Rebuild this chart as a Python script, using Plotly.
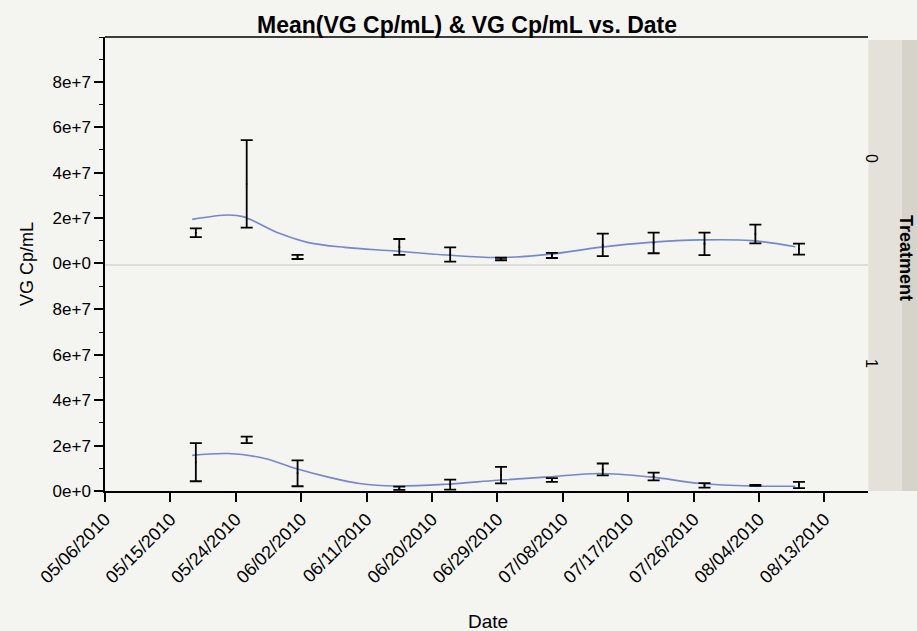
import plotly.graph_objects as go
from datetime import datetime

# ---------------- data ----------------
dates = ["2010-05-18 12:00", "2010-05-25 12:00", "2010-06-01 12:00", "2010-06-15 12:00",
         "2010-06-22 12:00", "2010-06-29 12:00", "2010-07-06 12:00", "2010-07-13 12:00",
         "2010-07-20 12:00", "2010-07-27 12:00", "2010-08-03 12:00", "2010-08-09 12:00"]

# Treatment 0 : mean and half-width of error bar
t0_mean = [1.335e7, 3.50e7, 0.265e7, 0.71e7, 0.375e7, 0.175e7,
           0.335e7, 0.80e7, 0.885e7, 0.845e7, 1.285e7, 0.615e7]
t0_err = [0.195e7, 1.94e7, 0.09e7, 0.35e7, 0.315e7, 0.055e7,
          0.115e7, 0.50e7, 0.455e7, 0.495e7, 0.415e7, 0.245e7]

# Treatment 1
t1_mean = [1.27e7, 2.25e7, 0.78e7, 0.12e7, 0.28e7, 0.70e7,
           0.485e7, 0.95e7, 0.64e7, 0.25e7, 0.25e7, 0.265e7]
t1_err = [0.84e7, 0.14e7, 0.57e7, 0.07e7, 0.22e7, 0.36e7,
          0.085e7, 0.26e7, 0.17e7, 0.10e7, 0.02e7, 0.135e7]

# smoother curves
t0_smooth_dates = ["2010-05-18", "2010-05-23", "2010-05-25", "2010-05-30", "2010-06-03",
                   "2010-06-08", "2010-06-15", "2010-06-22", "2010-06-29", "2010-07-06",
                   "2010-07-13", "2010-07-20", "2010-07-27", "2010-08-03", "2010-08-09"]
t0_smooth = [1.93e7, 2.12e7, 2.05e7, 1.31e7, 0.90e7, 0.69e7, 0.53e7, 0.35e7, 0.24e7,
             0.38e7, 0.69e7, 0.91e7, 1.02e7, 0.99e7, 0.72e7]

t1_smooth_dates = ["2010-05-18", "2010-05-23", "2010-05-28", "2010-06-01", "2010-06-06",
                   "2010-06-10", "2010-06-15", "2010-06-22", "2010-06-29", "2010-07-06",
                   "2010-07-13", "2010-07-20", "2010-07-27", "2010-08-03", "2010-08-09"]
t1_smooth = [1.57e7, 1.65e7, 1.43e7, 1.01e7, 0.59e7, 0.33e7, 0.22e7, 0.30e7, 0.47e7,
             0.62e7, 0.77e7, 0.62e7, 0.33e7, 0.22e7, 0.21e7]

x_tick_labels = ["05/06/2010", "05/15/2010", "05/24/2010", "06/02/2010", "06/11/2010",
                 "06/20/2010", "06/29/2010", "07/08/2010", "07/17/2010", "07/26/2010",
                 "08/04/2010", "08/13/2010"]
y_tick_vals = [0, 2e7, 4e7, 6e7, 8e7]
y_tick_labels = ["0e+0", "2e+7", "4e+7", "6e+7", "8e+7"]
strip_labels = ["0", "1"]

# ---------------- figure ----------------
x_tick_vals = [datetime.strptime(s, "%m/%d/%Y") for s in x_tick_labels]
FONT = "Liberation Sans, Arial, sans-serif"
BG = "#f4f4f1"
LINE_C = "rgba(95,115,200,0.85)"

fig = go.Figure()

for smooth_d, smooth_v, mean, err, xa, ya in [
        (t0_smooth_dates, t0_smooth, t0_mean, t0_err, "x2", "y2"),
        (t1_smooth_dates, t1_smooth, t1_mean, t1_err, "x", "y")]:
    fig.add_trace(go.Scatter(x=smooth_d, y=smooth_v, mode="lines",
                             line=dict(color=LINE_C, width=1.6, shape="spline", smoothing=1.0),
                             xaxis=xa, yaxis=ya, showlegend=False, hoverinfo="skip"))
    fig.add_trace(go.Scatter(x=dates, y=mean, mode="markers",
                             marker=dict(color="black", size=2),
                             error_y=dict(type="data", array=err, visible=True,
                                          color="black", thickness=1.8, width=6),
                             xaxis=xa, yaxis=ya, showlegend=False))

split = (491 - 265) / 454.0
xr = ["2010-05-06", "2010-08-19"]
TICKF = dict(size=17, family=FONT)

fig.update_layout(
    width=917, height=631, autosize=False,
    margin=dict(l=105, r=49, t=37, b=140),
    paper_bgcolor=BG, plot_bgcolor=BG,
    font=dict(family=FONT, color="black"),
    showlegend=False,
    xaxis=dict(domain=[0, 1], anchor="y", range=xr, tickmode="array",
               tickvals=x_tick_vals, ticktext=x_tick_labels, tickangle=-45,
               ticks="outside", ticklen=9, tickwidth=1.5, tickcolor="black",
               showline=True, linecolor="black", linewidth=1.5, showgrid=False,
               zeroline=False, tickfont=dict(size=18, family=FONT)),
    xaxis2=dict(domain=[0, 1], anchor="y2", range=xr, matches="x",
                showticklabels=False, ticks="", showline=False, showgrid=False, zeroline=False),
    yaxis=dict(domain=[0, split], range=[0, 9.95e7], tickmode="array",
               tickvals=y_tick_vals, ticktext=y_tick_labels,
               ticks="outside", ticklen=9, tickwidth=1.5, tickcolor="black",
               minor=dict(ticks="outside", ticklen=4, tickcolor="black", tickwidth=1.2,
                          tick0=0, dtick=1e7, showgrid=False),
               showline=True, linecolor="black", linewidth=1.5, showgrid=False,
               zeroline=False, tickfont=TICKF),
    yaxis2=dict(domain=[split, 1], range=[-0.09e7, 1.0e8], tickmode="array",
                tickvals=y_tick_vals, ticktext=y_tick_labels,
                ticks="outside", ticklen=9, tickwidth=1.5, tickcolor="black",
                minor=dict(ticks="outside", ticklen=4, tickcolor="black", tickwidth=1.2,
                           tick0=0, dtick=1e7, showgrid=False),
                showline=True, linecolor="black", linewidth=1.5, showgrid=False,
                zeroline=False, tickfont=TICKF),
)

# top frame line and panel separator
fig.add_shape(type="line", xref="paper", yref="paper", x0=0, x1=1, y0=1, y1=1,
              line=dict(color="black", width=1.5))
fig.add_shape(type="line", xref="paper", yref="paper", x0=0, x1=1, y0=split, y1=split,
              line=dict(color="#d4d4d0", width=1.5))

# facet strip on the right
fig.add_shape(type="rect", xref="paper", yref="paper", x0=1.0005, x1=1.0445,
              y0=0, y1=(491 - 40) / 454.0, line=dict(width=0), fillcolor="#e3e1da", layer="below")
fig.add_shape(type="rect", xref="paper", yref="paper", x0=1.0445, x1=1.08,
              y0=0, y1=(491 - 40) / 454.0, line=dict(width=0), fillcolor="#d6d3ca", layer="below")
for lab, yc in zip(strip_labels, [(491 - 152) / 454.0, (491 - 370) / 454.0]):
    fig.add_annotation(text=lab, xref="paper", yref="paper", x=(882 - 105) / 763.0, y=yc,
                       showarrow=False, textangle=90, font=dict(size=16, family=FONT))
fig.add_annotation(text="<b>Treatment</b>", xref="paper", yref="paper",
                   x=(918 - 105) / 763.0, y=(491 - 258) / 454.0, showarrow=False,
                   textangle=90, font=dict(size=18, family=FONT))

# titles
fig.add_annotation(text="<b>Mean(VG Cp/mL) & VG Cp/mL vs. Date</b>", xref="paper", yref="paper",
                   x=(467 - 105) / 763.0, y=(491 - 25) / 454.0, showarrow=False,
                   xanchor="center", yanchor="middle", font=dict(size=23, family=FONT))
fig.add_annotation(text="VG Cp/mL", xref="paper", yref="paper",
                   x=(27 - 105) / 763.0, y=(491 - 264) / 454.0, showarrow=False,
                   textangle=-90, xanchor="center", yanchor="middle",
                   font=dict(size=18, family=FONT))
fig.add_annotation(text="Date", xref="paper", yref="paper",
                   x=(488 - 105) / 763.0, y=(491 - 621) / 454.0, showarrow=False,
                   xanchor="center", yanchor="middle", font=dict(size=19, family=FONT))

fig.write_html("out.html", config={"displayModeBar": False},
               post_script="document.body.style.margin='0';document.body.style.overflow='hidden';")
